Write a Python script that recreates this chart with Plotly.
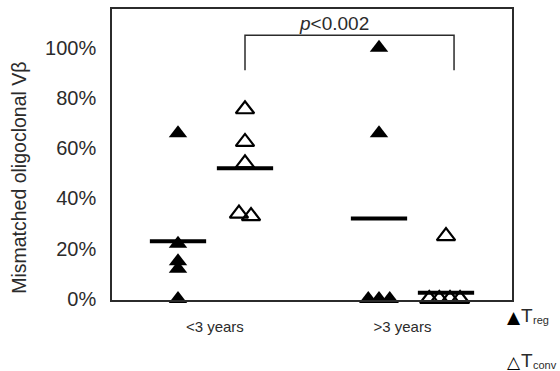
import plotly.graph_objects as go

# ---- data ----
categories = ["<3 years", ">3 years"]
category_ticks = [1.55, 4.35]

treg_lt3_x = [1, 1, 1, 1, 1]
treg_lt3_y = [66, 22, 15, 12, 0]

tconv_lt3_x = [2, 2, 2, 1.91, 2.09]
tconv_lt3_y = [75.5, 62.5, 54, 34, 33]

treg_gt3_x = [4, 4, 3.84, 4, 4.16]
treg_gt3_y = [100, 66, 0, 0, 0]

tconv_gt3_x = [5, 4.75, 4.9, 5.06, 5.21]
tconv_gt3_y = [25, 0, 0, 0, 0]

median_x = [1, 2, 4, 5]
median_y = [23, 52, 32, 2.5]

y_ticks = [0, 20, 40, 60, 80, 100]
y_ticktext = [f"{v}%" for v in y_ticks]
p_text = "<i>p</i>&lt;0.002"
legend_symbols = ["\u25b2", "<b>\u25b3</b>"]
legend_main = ["T", "T"]
legend_sub = ["reg", "conv"]

FONT = "Liberation Sans"
INK = "#2b2b2b"

W, H = 560, 371
ML, MR, MT, MB = 112, 48, 7, 71


def px_to_paper(px, py):
    return (px - ML) / (W - ML - MR), 1 - (py - MT) / (H - MT - MB)


fig = go.Figure()

tri = dict(symbol="triangle-up", size=16, color="black")
tri_open = dict(symbol="triangle-up-open", size=16, color="black", line=dict(width=2.2, color="black"))

fig.add_trace(go.Scatter(x=treg_lt3_x + treg_gt3_x, y=treg_lt3_y + treg_gt3_y,
                         mode="markers", marker=tri, name="Treg", cliponaxis=False,
                         showlegend=False))
fig.add_trace(go.Scatter(x=tconv_lt3_x + tconv_gt3_x, y=tconv_lt3_y + tconv_gt3_y,
                         mode="markers", marker=tri_open, name="Tconv", cliponaxis=False,
                         showlegend=False))

half = 0.42
for mx, my in zip(median_x, median_y):
    fig.add_trace(go.Scatter(x=[mx - half, mx + half], y=[my, my], mode="lines",
                             line=dict(color="black", width=4), showlegend=False,
                             cliponaxis=False, hoverinfo="skip"))

# significance bracket
fig.add_shape(type="path", xref="x", yref="y",
              path="M 2,91 L 2,105 L 5.12,105 L 5.12,91",
              line=dict(color=INK, width=1.5))
fig.add_annotation(x=3.33, y=109.8, xref="x", yref="y", text=p_text, showarrow=False,
                   font=dict(family=FONT, size=19, color=INK))

# y-axis title
tx, ty = px_to_paper(19, 177)
fig.add_annotation(x=tx, y=ty, xref="paper", yref="paper", xanchor="center", yanchor="middle",
                   text="Mismatched oligoclonal V\u03b2", textangle=-90, showarrow=False,
                   font=dict(family=FONT, size=19.5, color=INK))

# legend (symbol + label)
legend_rows = [317, 362]
for sym, main, sub, py in zip(legend_symbols, legend_main, legend_sub, legend_rows):
    sx, sy = px_to_paper(514, py)
    fig.add_annotation(x=sx, y=sy, xref="paper", yref="paper", xanchor="center", yanchor="middle",
                       text=sym, showarrow=False,
                       font=dict(family="DejaVu Sans", size=17, color="black"))
    lx, ly = px_to_paper(520, py - 1)
    fig.add_annotation(x=lx, y=ly, xref="paper", yref="paper", xanchor="left", yanchor="middle",
                       text=main, showarrow=False, borderpad=0,
                       font=dict(family=FONT, size=19, color=INK))
    bx, by = px_to_paper(532, py + 3)
    fig.add_annotation(x=bx, y=by, xref="paper", yref="paper", xanchor="left", yanchor="middle",
                       text=sub, showarrow=False, borderpad=0,
                       font=dict(family=FONT, size=11, color=INK))

fig.update_layout(
    width=W, height=H,
    margin=dict(l=ML, r=MR, t=MT, b=MB, pad=0),
    paper_bgcolor="white", plot_bgcolor="white",
    font=dict(family=FONT, color=INK),
    showlegend=False,
    xaxis=dict(range=[0.015, 5.985], tickvals=category_ticks, ticktext=categories,
               showgrid=False, zeroline=False, showline=True, mirror=True,
               linecolor=INK, linewidth=1.5, ticks="", ticklabelstandoff=12,
               tickfont=dict(family=FONT, size=15, color=INK)),
    yaxis=dict(range=[-0.4, 115.4], tickvals=y_ticks, ticktext=y_ticktext,
               showgrid=False, zeroline=False, showline=True, mirror=True,
               linecolor=INK, linewidth=1.5, ticks="", ticklabelstandoff=10,
               tickfont=dict(family=FONT, size=20, color=INK)),
)

fig.write_html("out.html")
